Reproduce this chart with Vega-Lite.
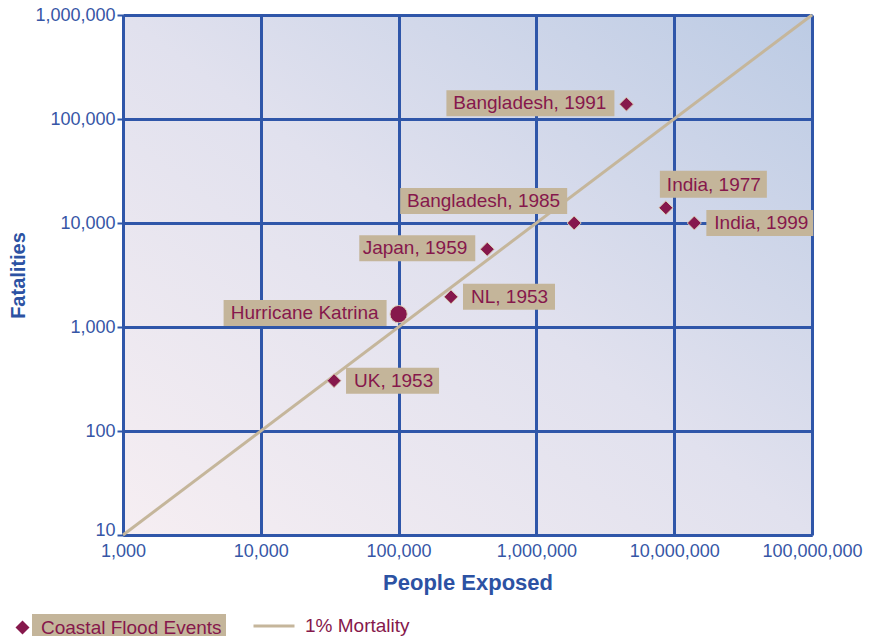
{
  "$schema": "https://vega.github.io/schema/vega-lite/v6.json",
  "width": 689,
  "height": 520,
  "autosize": {"type": "none"},
  "padding": {"left": 123, "top": 15, "right": 66, "bottom": 101},
  "background": "white",
  "config": {
    "font": "Liberation Sans",
    "view": {
      "stroke": null,
      "fill": {
        "gradient": "linear", "x1": 0, "y1": 1, "x2": 1, "y2": 0,
        "stops": [
          {"offset": 0, "color": "#f6eef2"},
          {"offset": 0.5, "color": "#e1e1ee"},
          {"offset": 1, "color": "#bccbe4"}
        ]
      }
    }
  },
  "datasets": {
    "events": [
      {"name": "Bangladesh, 1991", "exposed": 4500000, "fatalities": 139000, "kind": "Coastal Flood Events", "placement": "left"},
      {"name": "India, 1977", "exposed": 8700000, "fatalities": 14000, "kind": "Coastal Flood Events", "placement": "above-right"},
      {"name": "India, 1999", "exposed": 14000000, "fatalities": 10000, "kind": "Coastal Flood Events", "placement": "right"},
      {"name": "Bangladesh, 1985", "exposed": 1880000, "fatalities": 10000, "kind": "Coastal Flood Events", "placement": "above-left"},
      {"name": "Japan, 1959", "exposed": 440000, "fatalities": 5600, "kind": "Coastal Flood Events", "placement": "left"},
      {"name": "NL, 1953", "exposed": 240000, "fatalities": 1950, "kind": "Coastal Flood Events", "placement": "right"},
      {"name": "Hurricane Katrina", "exposed": 100000, "fatalities": 1330, "kind": "Hurricane Katrina", "placement": "left"},
      {"name": "UK, 1953", "exposed": 34000, "fatalities": 305, "kind": "Coastal Flood Events", "placement": "right"}
    ],
    "mortality": [
      {"exposed": 1000, "fatalities": 10, "series": "1% Mortality"},
      {"exposed": 100000000, "fatalities": 1000000, "series": "1% Mortality"}
    ]
  },
  "encoding": {
    "x": {
      "field": "exposed", "type": "quantitative",
      "scale": {"type": "log", "domain": [1000, 100000000], "nice": false},
      "axis": {
        "title": "People Exposed",
        "values": [1000, 10000, 100000, 1000000, 10000000, 100000000],
        "format": ",",
        "labelFontSize": 18, "labelColor": "#3656a6", "labelFlush": false,
        "ticks": false, "tickSize": 0, "labelPadding": 7,
        "grid": true, "gridColor": "#2f56a9", "gridWidth": 3, "gridOpacity": 1,
        "domainColor": "#2f56a9", "domainWidth": 3,
        "titleFontSize": 22, "titleFontWeight": "bold", "titleColor": "#2c52a3", "titlePadding": 12
      }
    },
    "y": {
      "field": "fatalities", "type": "quantitative",
      "scale": {"type": "log", "domain": [10, 1000000], "nice": false},
      "axis": {
        "title": "Fatalities",
        "values": [10, 100, 1000, 10000, 100000, 1000000],
        "format": ",",
        "labelFontSize": 18, "labelColor": "#3656a6", "labelFlush": false,
        "labelBaseline": {"condition": {"test": "datum.value === 10", "value": "alphabetic"}, "value": "middle"},
        "ticks": true, "tickSize": 6, "tickWidth": 2, "tickColor": "#2f56a9", "labelPadding": 2,
        "grid": true, "gridColor": "#2f56a9", "gridWidth": 3, "gridOpacity": 1,
        "domainColor": "#2f56a9", "domainWidth": 3,
        "titleFontSize": 20, "titleFontWeight": "bold", "titleColor": "#2c52a3", "titlePadding": 6
      }
    }
  },
  "layer": [
    {
      "data": {"name": "mortality"},
      "mark": {"type": "line", "strokeWidth": 3},
      "encoding": {
        "color": {
          "field": "series", "type": "nominal",
          "scale": {"domain": ["1% Mortality"], "range": ["#c5b69b"]},
          "legend": {
            "orient": "none", "legendX": 129, "legendY": 589, "title": null, "padding": 0,
            "symbolType": "stroke", "symbolSize": 1681, "symbolStrokeWidth": 3,
            "labelOffset": 9, "labelFontSize": 19, "labelColor": "#86184c", "labelFont": "Liberation Sans"
          }
        }
      }
    },
    {
      "data": {"name": "events"},
      "mark": {"type": "point", "filled": true, "color": "#c4b59a", "opacity": 1, "strokeWidth": 0},
      "encoding": {
        "shape": {
          "field": "name", "type": "nominal",
          "scale": {
            "domain": ["Bangladesh, 1991", "India, 1977", "India, 1999", "Bangladesh, 1985", "Japan, 1959", "NL, 1953", "Hurricane Katrina", "UK, 1953"],
            "range": [
              "M-1.80,-0.14H-0.12V0.12H-1.80Z",
              "M-0.06,-0.37H1.01V-0.10H-0.06Z",
              "M0.12,-0.13H1.19V0.13H0.12Z",
              "M-1.74,-0.35H-0.07V-0.09H-1.74Z",
              "M-1.28,-0.14H-0.12V0.12H-1.28Z",
              "M0.12,-0.13H1.04V0.13H0.12Z",
              "M-1.75,-0.14H-0.12V0.12H-1.75Z",
              "M0.12,-0.13H1.05V0.13H0.12Z"
            ]
          },
          "legend": null
        },
        "size": {"value": 40000},
        "opacity": {
          "field": "kind", "type": "nominal",
          "scale": {"domain": ["Coastal Flood Events"], "range": [1, 1]},
          "legend": {
            "orient": "none", "legendX": -91, "legendY": 599, "title": null, "padding": 4,
            "fillColor": "#c4b59a", "values": ["Coastal Flood Events"],
            "symbolType": "circle", "symbolSize": 1, "symbolOpacity": 0, "symbolStrokeWidth": 0,
            "labelOffset": -14, "labelLimit": 400, "labelFontSize": 19, "labelColor": "#86184c", "labelFont": "Liberation Sans"
          }
        }
      }
    },
    {
      "data": {"name": "events"},
      "transform": [{"filter": "datum.kind === 'Coastal Flood Events'"}],
      "mark": {"type": "point", "filled": true, "color": "#86184c", "stroke": "#dccfb6", "strokeWidth": 1, "opacity": 1, "size": 196},
      "encoding": {
        "shape": {
          "field": "kind", "type": "nominal",
          "scale": {"domain": ["Coastal Flood Events"], "range": ["diamond"]},
          "legend": {
            "orient": "none", "legendX": -110, "legendY": 603, "title": null, "padding": 0,
            "labelExpr": "''",
            "symbolFillColor": "#86184c", "symbolStrokeColor": "#dccfb6", "symbolStrokeWidth": 1, "symbolSize": 196,
            "symbolOpacity": 1, "labelFontSize": 19
          }
        }
      }
    },
    {
      "data": {"name": "events"},
      "transform": [{"filter": "datum.kind === 'Hurricane Katrina'"}],
      "mark": {"type": "circle", "color": "#86184c", "stroke": "#dccfb6", "strokeWidth": 1, "opacity": 1, "size": 300},
      "encoding": {}
    },
    {
      "data": {"name": "events"},
      "transform": [{"filter": "datum.placement === 'left'"}],
      "mark": {"type": "text", "align": "right", "baseline": "middle", "dx": -20, "dy": -1, "fontSize": 19, "font": "Liberation Sans", "color": "#86184c"},
      "encoding": {"text": {"field": "name"}}
    },
    {
      "data": {"name": "events"},
      "transform": [{"filter": "datum.placement === 'right'"}],
      "mark": {"type": "text", "align": "left", "baseline": "middle", "dx": 20, "dy": 0, "fontSize": 19, "font": "Liberation Sans", "color": "#86184c"},
      "encoding": {"text": {"field": "name"}}
    },
    {
      "data": {"name": "events"},
      "transform": [{"filter": "datum.placement === 'above-left'"}],
      "mark": {"type": "text", "align": "right", "baseline": "middle", "dx": -14, "dy": -22, "fontSize": 19, "font": "Liberation Sans", "color": "#86184c"},
      "encoding": {"text": {"field": "name"}}
    },
    {
      "data": {"name": "events"},
      "transform": [{"filter": "datum.placement === 'above-right'"}],
      "mark": {"type": "text", "align": "left", "baseline": "middle", "dx": 1, "dy": -23, "fontSize": 19, "font": "Liberation Sans", "color": "#86184c"},
      "encoding": {"text": {"field": "name"}}
    }
  ],
  "resolve": {"scale": {"shape": "independent", "size": "independent", "opacity": "independent", "color": "independent"}}
}
